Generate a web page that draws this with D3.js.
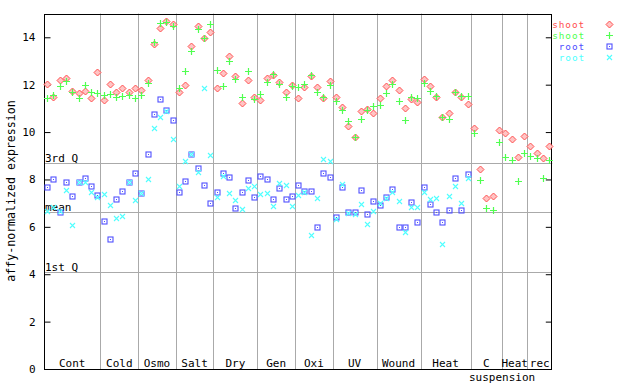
<!DOCTYPE html>
<html><head><meta charset="utf-8">
<script src="https://cdn.jsdelivr.net/npm/d3@7"></script>
<style>
body{margin:0;background:#fff;}
text{font-family:"DejaVu Sans Mono",monospace;font-size:11px;}
</style></head>
<body><svg id="c" width="640" height="384"></svg>
<script>
const groupNames = ["Cont","Cold","Osmo","Salt","Dry","Gen","Oxi","UV","Wound","Heat","C","Heat","rec"];
const groupCounts = [9,6,6,6,7,6,6,7,7,8,5,4,4];
const yTicks = [0,2,4,6,8,10,12,14];
const refLines = [{label:"3rd Q", value:8.68},{label:"mean", value:6.61},{label:"1st Q", value:4.08}];
const seriesNames = ["shoot","shoot","root","root"];

const shootRed = [12.03,11.49,12.19,12.27,11.73,11.64,11.72,11.43,12.52,
 11.36,12.02,11.69,11.85,11.69,11.85,
 11.76,12.19,13.72,14.38,14.69,14.55,
 11.68,11.98,13.63,14.48,13.96,14.21,
 11.85,12.48,13.20,12.36,11.22,12.19,11.47,
 11.34,12.27,12.40,12.10,11.68,11.98,
 11.43,11.89,12.36,11.89,11.43,12.14,
 11.47,11.05,10.24,9.78,10.88,10.96,10.79,
 11.43,11.93,12.19,11.76,11.00,11.38,11.26,
 12.23,11.93,11.47,10.62,10.79,11.68,11.47,11.17,
 10.16,8.43,7.21,7.29,10.08,
 9.95,9.70,8.94,9.82,
 9.40,9.11,8.89,9.40];
const shootGreen = [11.43,11.55,11.93,12.14,11.68,11.43,11.98,11.68,11.64,
 11.55,11.60,11.47,11.51,11.55,11.43,
 11.55,12.06,13.79,14.59,14.64,14.48,
 11.85,12.57,13.41,14.34,13.96,14.55,
 12.61,11.93,12.99,12.23,11.47,12.57,11.38,
 11.60,12.10,12.44,12.02,11.47,11.93,
 11.89,12.02,12.40,11.68,11.47,11.98,
 11.30,10.92,10.46,9.78,10.54,10.92,11.09,
 11.13,11.64,12.02,11.30,10.50,11.47,11.43,
 12.06,11.72,11.51,10.62,10.54,11.68,11.51,11.51,
 9.95,7.97,6.78,6.70,9.57,
 8.94,8.81,7.92,9.11,
 8.98,8.89,8.05,8.81];
const rootBlue = [7.67,8.01,6.61,7.88,7.29,7.88,8.05,7.71,7.33,
 6.23,5.47,7.16,7.50,7.88,8.26,
 7.42,9.06,10.75,11.38,10.92,10.50,
 7.46,7.92,9.06,8.47,7.75,6.99,
 7.46,8.26,8.09,6.78,7.46,7.97,7.25,
 8.13,8.01,7.16,7.63,7.16,7.29,
 7.75,7.50,7.50,5.98,8.26,8.09,
 6.40,7.67,6.61,6.61,7.54,6.53,7.08,
 6.91,7.25,7.59,5.98,5.98,7.04,6.19,
 7.67,6.95,6.61,6.19,6.70,8.05,6.70,8.22,
 null,null,null,null,null,null,null,null,null,null,null,null,null];
const rootCyan = [6.66,6.83,6.65,7.54,6.07,7.88,7.88,7.46,7.25,
 7.37,6.91,6.36,6.45,7.88,7.12,
 7.42,8.01,10.16,10.62,10.88,9.70,
 7.71,8.77,9.06,8.30,11.85,9.02,
 7.25,8.13,7.42,7.12,6.74,7.63,7.71,
 7.37,7.42,6.87,7.84,7.75,6.87,
 7.33,7.46,5.64,7.21,8.85,8.77,
 6.32,7.80,6.60,6.53,6.95,6.11,6.66,
 6.99,7.20,7.46,7.08,5.77,6.83,6.83,
 7.46,7.16,7.21,5.26,7.29,7.71,6.99,8.05,
 null,null,null,null,null,null,null,null,null,null,null,null,null];

const svg = d3.select("#c");
const L=44, R=552.3, T=13.6, B=369;
const N = d3.sum(groupCounts);
const x = d3.scaleLinear().domain([0,N]).range([L,R]);
const y = d3.scaleLinear().domain([0,15]).range([B,T]);

// group separators
const bounds = d3.cumsum(groupCounts);
svg.append("g").selectAll("line").data(bounds.slice(0,-1)).join("line")
  .attr("x1",d=>Math.round(x(d))+0.5).attr("x2",d=>Math.round(x(d))+0.5)
  .attr("y1",T).attr("y2",B).attr("stroke","#aaaaaa").attr("stroke-width",1);

// reference lines
const rg = svg.append("g");
rg.selectAll("line").data(refLines).join("line")
  .attr("x1",L).attr("x2",R)
  .attr("y1",d=>Math.round(y(d.value))+0.5).attr("y2",d=>Math.round(y(d.value))+0.5)
  .attr("stroke","#aaaaaa");
rg.selectAll("text").data(refLines).join("text")
  .attr("x",L+1).attr("y",d=>y(d.value)-1.5).text(d=>d.label).attr("fill","#000");

// group labels
const starts = [0, ...bounds.slice(0,-1)];
svg.append("g").selectAll("text").data(groupNames).join("text")
  .attr("x",(d,i)=>x(starts[i]+groupCounts[i]/2)).attr("y",B-2)
  .attr("text-anchor","middle").text(d=>d);
svg.append("text").attr("x",x(starts[11])).attr("y",381).attr("text-anchor","middle").text("suspension");

// axes
const ya = svg.append("g").attr("transform",`translate(${L+0.5},0)`)
  .call(d3.axisLeft(y).tickValues(yTicks).tickSize(-6).tickPadding(9).tickFormat(d3.format("d")));
ya.select(".domain").remove();
ya.selectAll("text").style("font-family","DejaVu Sans Mono").style("font-size","11px").attr("fill","#000");
ya.selectAll("line").attr("stroke","#000");
const yr = svg.append("g").attr("transform",`translate(${R-0.5},0)`)
  .call(d3.axisRight(y).tickValues(yTicks).tickSize(-6).tickFormat(""));
yr.select(".domain").remove();
yr.selectAll("line").attr("stroke","#000");
svg.append("rect").attr("x",L+0.5).attr("y",Math.round(T)+0.5).attr("width",Math.round(R)-L-1)
  .attr("height",B-Math.round(T)).attr("fill","none").attr("stroke","#000");

svg.append("text").attr("transform",`translate(15,191) rotate(-90)`).attr("text-anchor","middle")
  .style("font-size","11.6px").text("affy-normalized expression");

// markers
const colors = ["#ff5050","#50ff50","#5050ff","#50ffff"];
function drawMarker(g, k){
  if(k===0){
    g.append("path").attr("d","M0,-3.5L3.5,0L0,3.5L-3.5,0Z").attr("fill","#ffc4c4").attr("stroke",colors[0]).attr("stroke-width",1);
  } else if(k===1){
    g.append("path").attr("d","M-3.5,0H3.5M0,-3.5V3.5").attr("stroke",colors[1]).attr("stroke-width",1.2).attr("fill","none");
  } else if(k===2){
    g.append("rect").attr("x",-2.5).attr("y",-2.5).attr("width",5).attr("height",5).attr("fill","none").attr("stroke",colors[2]).attr("stroke-width",1.1);
    g.append("rect").attr("x",-0.5).attr("y",-0.5).attr("width",1).attr("height",1).attr("fill",colors[2]);
  } else {
    g.append("path").attr("d","M-2.5,-2.5L2.5,2.5M-2.5,2.5L2.5,-2.5").attr("stroke",colors[3]).attr("stroke-width",1.1).attr("fill","none");
  }
}
const allSeries = [shootRed, shootGreen, rootBlue, rootCyan];
allSeries.forEach((s,k)=>{
  const g = svg.append("g");
  s.forEach((v,i)=>{
    if(v==null) return;
    const m = g.append("g").attr("transform",`translate(${Math.round(x(i+0.5))+0.5},${Math.round(y(v))+0.5})`);
    drawMarker(m,k);
  });
});

// legend
seriesNames.forEach((n,k)=>{
  const yy = 24 + k*11;
  svg.append("text").attr("x",585).attr("y",yy+3.5).attr("text-anchor","end").attr("fill",colors[k])
    .style("font-size","9.4px").style("letter-spacing","0.9px").text(n);
  const m = svg.append("g").attr("transform",`translate(609.5,${yy+0.5})`);
  drawMarker(m,k);
});
</script></body></html>
